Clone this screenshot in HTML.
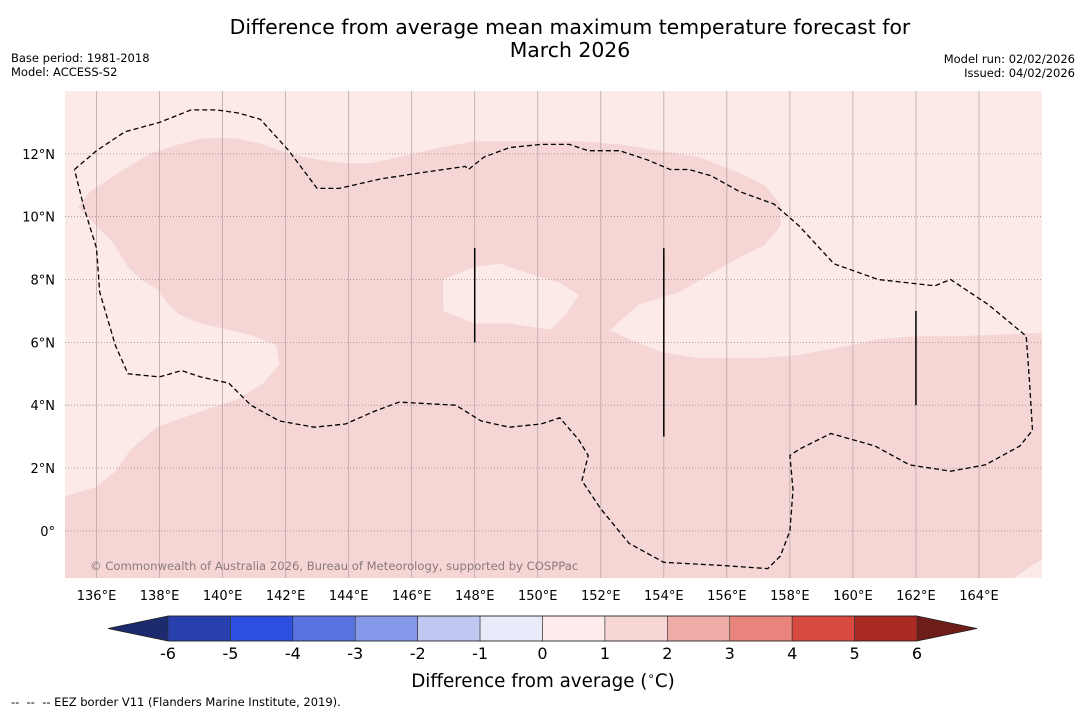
<!DOCTYPE html>
<html><head><meta charset="utf-8"><style>
body{margin:0;background:#fff;}
svg{display:block;font-family:"DejaVu Sans","Liberation Sans",sans-serif;}
</style></head><body>
<svg id="chart" width="1085" height="713" viewBox="0 0 1085 713" xmlns="http://www.w3.org/2000/svg">
<text x="570" y="34" font-size="20.4" text-anchor="middle">Difference from average mean maximum temperature forecast for</text>
<text x="570" y="57" font-size="20.4" text-anchor="middle">March 2026</text>
<text x="11" y="62" font-size="11.5">Base period: 1981-2018</text>
<text x="11" y="76" font-size="11.5">Model: ACCESS-S2</text>
<text x="1075" y="63" font-size="11.5" text-anchor="end">Model run: 02/02/2026</text>
<text x="1075" y="77" font-size="11.5" text-anchor="end">Issued: 04/02/2026</text>
<g id="map"></g>
<g id="cbar"></g>
<text x="543" y="687" font-size="18.3" text-anchor="middle">Difference from average (<tspan font-size="12" dy="-7">∘</tspan><tspan dy="7">C)</tspan></text>
<text x="11" y="706" font-size="11.5" xml:space="preserve">--  --  -- EEZ border V11 (Flanders Marine Institute, 2019).</text>
</svg>
<script>
const lonTicks=[136,138,140,142,144,146,148,150,152,154,156,158,160,162,164];
const latTicks=[0,2,4,6,8,10,12];
const cbarLevels=[-6,-5,-4,-3,-2,-1,0,1,2,3,4,5,6];
const cbarColors=["#283fae","#2c4fe0","#5873e0","#8598ea","#c0c8f2","#e9ebfa","#fdeceb","#f6d6d4","#edaca6","#e8847c","#d84a40","#ab2b24"];
const anomalyRegion=[[135.0,1.1],[136.0,1.4],[136.6,1.9],[137.1,2.6],[137.9,3.3],[139.3,3.8],[140.5,4.2],[141.3,4.7],[141.8,5.3],[141.7,5.9],[141.0,6.2],[140.2,6.4],[139.3,6.6],[138.6,6.9],[138.3,7.2],[137.9,7.7],[137.4,8.0],[137.0,8.4],[136.5,9.2],[136.0,9.7],[135.4,10.3],[135.8,10.8],[136.7,11.4],[137.7,12.0],[138.6,12.3],[139.4,12.5],[140.4,12.5],[141.3,12.3],[142.1,12.0],[143.1,11.8],[143.9,11.7],[144.7,11.7],[145.6,11.9],[146.9,12.2],[148.0,12.4],[149.7,12.4],[151.3,12.4],[152.6,12.3],[153.9,12.1],[155.1,11.9],[156.4,11.4],[157.2,11.0],[157.7,10.4],[157.7,9.7],[157.2,9.1],[156.4,8.7],[155.5,8.2],[154.5,7.6],[153.2,7.2],[152.3,6.4],[152.9,6.1],[153.9,5.7],[155.1,5.5],[157.0,5.5],[158.3,5.6],[159.9,5.9],[160.8,6.1],[162.1,6.2],[163.4,6.2],[166.0,6.3],[166.0,-0.9],[165.1,-1.5],[135.0,-1.5]];
const anomalyHole=[[147.0,8.0],[148.0,8.4],[148.8,8.5],[149.7,8.2],[150.7,7.9],[151.3,7.5],[150.9,6.9],[150.4,6.4],[149.1,6.6],[148.0,6.6],[147.0,7.0],[147.0,7.5]];
const eezBorder=[[135.3,11.5],[136.0,12.1],[136.9,12.7],[138.0,13.0],[139.0,13.4],[139.8,13.4],[140.5,13.3],[141.2,13.1],[142.1,12.1],[143.0,10.9],[143.7,10.9],[145.0,11.2],[146.3,11.4],[147.7,11.6],[147.8,11.5],[148.3,11.9],[149.1,12.2],[150.1,12.3],[151.0,12.3],[151.6,12.1],[152.6,12.1],[153.5,11.8],[154.2,11.5],[154.8,11.5],[155.5,11.3],[156.4,10.8],[157.5,10.4],[158.3,9.7],[159.4,8.5],[160.8,8.0],[162.6,7.8],[163.1,8.0],[164.3,7.2],[165.5,6.2],[165.6,4.8],[165.7,3.2],[165.3,2.7],[164.2,2.1],[163.1,1.9],[161.8,2.1],[160.7,2.7],[159.3,3.1],[158.3,2.6],[158.0,2.4],[158.1,1.3],[158.0,0.0],[157.7,-0.8],[157.3,-1.2],[155.8,-1.1],[154.0,-1.0],[152.9,-0.4],[152.0,0.7],[151.4,1.6],[151.6,2.4],[151.3,2.9],[150.7,3.6],[150.1,3.4],[149.1,3.3],[148.2,3.5],[147.4,4.0],[145.6,4.1],[144.8,3.8],[143.9,3.4],[142.9,3.3],[141.8,3.5],[140.9,4.0],[140.2,4.7],[139.3,4.9],[138.7,5.1],[138.0,4.9],[137.0,5.0],[136.6,5.9],[136.1,7.6],[136.0,9.0],[135.6,10.3],[135.3,11.5]];
const borderSegments=[[148,9,6],[154,9,3],[162,7,4]];

const NS="http://www.w3.org/2000/svg";
const X0=65,X1=1042,Y0=91,Y1=578;
const LON0=135,LON1=166,LAT0=-1.5,LAT1=14;
function xs(lon){return X0+(lon-LON0)/(LON1-LON0)*(X1-X0);}
function ys(lat){return Y1-(lat-LAT0)/(LAT1-LAT0)*(Y1-Y0);}
function mk(tag,attrs,parent){const e=document.createElementNS(NS,tag);for(const k in attrs)e.setAttribute(k,attrs[k]);parent.appendChild(e);return e;}
function pathOf(pts,close){return pts.map((p,i)=>(i?"L":"M")+xs(p[0]).toFixed(1)+","+ys(p[1]).toFixed(1)).join("")+(close?"Z":"");}
const map=document.getElementById("map");
let e=mk("rect",{x:X0,y:Y0,width:X1-X0,height:Y1-Y0,fill:"#fbeae8"},map);


e=mk("path",{d:pathOf(anomalyRegion,true)+pathOf(anomalyHole,true),fill:"#f5d6d4","fill-rule":"evenodd"},map);


lonTicks.forEach(l=>{
  const g=mk("line",{x1:xs(l),x2:xs(l),y1:Y0,y2:Y1,stroke:"#b8a8a8","stroke-width":0.8},map);
  
  
  const t=mk("text",{x:xs(l),y:600,"font-size":13,"text-anchor":"middle"},map);t.textContent=l+"°E";
  
  
});
latTicks.forEach(l=>{
  const g=mk("line",{x1:X0,x2:X1,y1:ys(l),y2:ys(l),stroke:"#9a8a8a","stroke-width":0.8,"stroke-dasharray":"1,2"},map);
  
  
  const t=mk("text",{x:55,y:ys(l)+5,"font-size":13,"text-anchor":"end"},map);t.textContent=l===0?"0°":l+"°N";
  
  
});
e=mk("path",{d:pathOf(eezBorder,false),fill:"none",stroke:"#000","stroke-width":1.3,"stroke-dasharray":"5,3"},map);


borderSegments.forEach(s=>{
  const l=mk("line",{x1:xs(s[0]),x2:xs(s[0]),y1:ys(s[1]),y2:ys(s[2]),stroke:"#000","stroke-width":1.5},map);
  
  
});
e=mk("text",{x:90,y:570,"font-size":11.6,fill:"#8a7a7a"},map);e.textContent="© Commonwealth of Australia 2026, Bureau of Meteorology, supported by COSPPac";



const cb=document.getElementById("cbar");
const CX0=168,CX1=917,CY0=616,CY1=641;
function cx(v){return CX0+(v-cbarLevels[0])/(cbarLevels[cbarLevels.length-1]-cbarLevels[0])*(CX1-CX0);}
e=mk("polygon",{points:`108,${(CY0+CY1)/2} ${CX0},${CY0} ${CX0},${CY1}`,fill:"#1b2b6e"},cb);


e=mk("polygon",{points:`977,${(CY0+CY1)/2} ${CX1},${CY0} ${CX1},${CY1}`,fill:"#6e1d18"},cb);


cbarColors.forEach((c,i)=>{
  const r=mk("rect",{x:cx(cbarLevels[i]),y:CY0,width:cx(cbarLevels[i+1])-cx(cbarLevels[i]),height:CY1-CY0,fill:c,stroke:"#333","stroke-width":0.6},cb);
  
  
});
cbarLevels.forEach(v=>{
  const t=mk("text",{x:cx(v),y:659,"font-size":16,"text-anchor":"middle"},cb);t.textContent=v;
  
  
});
e=mk("path",{d:`M108,${(CY0+CY1)/2}L${CX0},${CY0}L${CX1},${CY0}L977,${(CY0+CY1)/2}L${CX1},${CY1}L${CX0},${CY1}Z`,fill:"none",stroke:"#222","stroke-width":0.8},cb);


</script>
</body></html>
